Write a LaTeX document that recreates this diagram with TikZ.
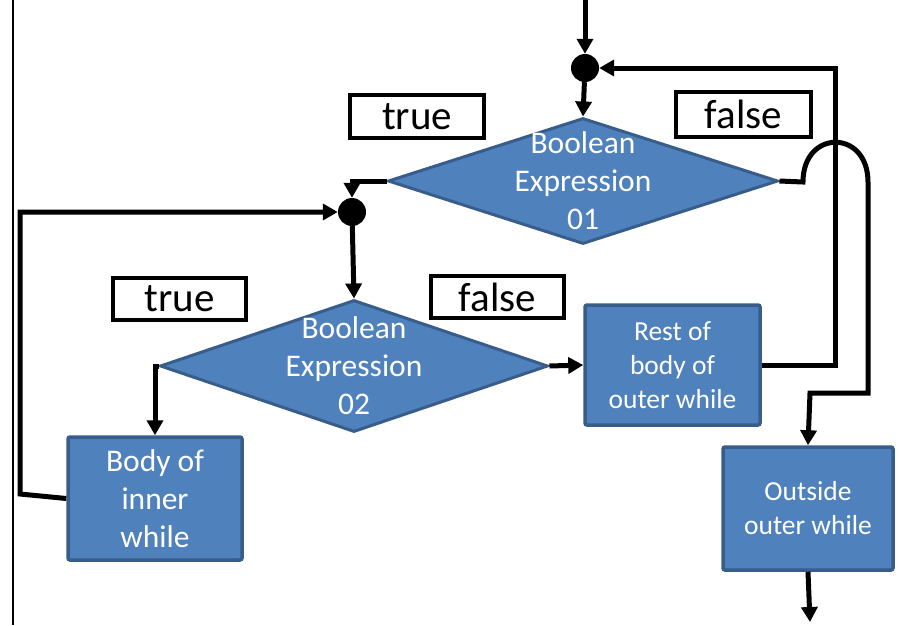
\documentclass[tikz,border=0pt]{standalone}
\usepackage{fontspec}
\setmainfont{Carlito}
\usetikzlibrary{shapes.geometric,arrows.meta}
\definecolor{boxblue}{HTML}{4F81BD}
\definecolor{boxedge}{HTML}{385D8A}
\begin{document}
\begin{tikzpicture}[x=1pt,y=-1pt,
  arr/.style={line width=5pt,-{Triangle[length=15pt,width=16pt]}},
  dia/.style={diamond,fill=boxblue,draw=boxedge,line width=3pt,inner sep=0pt},
  dtext/.style={text=white,align=center,font=\fontsize{31.5}{38}\selectfont},
  blk/.style={rectangle,fill=boxblue,draw=boxedge,line width=3.5pt,rounded corners=2pt,text=white,align=center},
  lbl/.style={rectangle,draw=black,line width=4.5pt,inner sep=0pt,font=\fontsize{41}{44}\selectfont},
  junc/.style={circle,fill=black,inner sep=0pt,minimum size=28pt}]
\useasboundingbox (0,0) rectangle (903,625);
\fill[white] (0,0) rectangle (903,625);
\draw[line width=2pt] (13,0) -- (13,625);
% junctions
\node[junc] (j1) at (585,68) {};
\node[junc] (j2) at (352,212) {};
% diamonds
\node[dia,minimum width=390pt,minimum height=126pt] (d1) at (583,181) {};
\node[dtext] (d1t) at (d1.center) {Boolean\\Expression\\01};
\node[dia,minimum width=388pt,minimum height=132pt] (d2) at (354,366) {};
\node[dtext] (d2t) at (d2.center) {Boolean\\Expression\\02};
% boxes
\node[blk,minimum width=175pt,minimum height=120pt,font=\fontsize{27.5}{34}\selectfont] (rest) at (672.5,365) {Rest of\\body of\\outer while};
\node[blk,minimum width=174pt,minimum height=123pt,font=\fontsize{31.5}{38}\selectfont] (body) at (155,498.5) {Body of\\inner\\while};
\node[blk,minimum width=170pt,minimum height=123pt,font=\fontsize{27.5}{34}\selectfont] (out) at (808,508.5) {Outside\\outer while};
% labels
\node[lbl,minimum width=134pt,minimum height=43pt] (t1) at (417,116.5) {true};
\node[lbl,minimum width=135pt,minimum height=45pt] (f1) at (743.5,114.5) {false};
\node[lbl,minimum width=133pt,minimum height=42pt] (t2) at (179.5,299) {true};
\node[lbl,minimum width=133pt,minimum height=42pt] (f2) at (497.5,297) {false};
% coordinates
\coordinate (top) at (585,0);
\coordinate (h1) at (803,182);
\coordinate (h2) at (868,182);
\coordinate (h3) at (868,393);
\coordinate (h4) at (810,393);
\coordinate (r1) at (835,365);
\coordinate (l1) at (20,494);
\coordinate (bot) at (810,622);
% connectors
\draw[arr] (top) -- (j1);
\draw[arr] (j1) -- (d1.north);
\draw[arr] (d1.east) -- (h1) .. controls (803,129) and (868,129) .. (h2) -- (h3) -- (h4) -- (out.north);
\draw[arr] (rest.east) -- (r1) |- (j1);
\draw[arr] (d1.west) -| (j2);
\draw[arr] (body.west) -- (l1) |- (j2);
\draw[arr] (j2) -- (d2.north);
\draw[arr] (d2.east) -- (rest.west);
\draw[arr] (d2.west) -| (body.north);
\draw[arr] (out.south) -- (bot);
\end{tikzpicture}
\end{document}
